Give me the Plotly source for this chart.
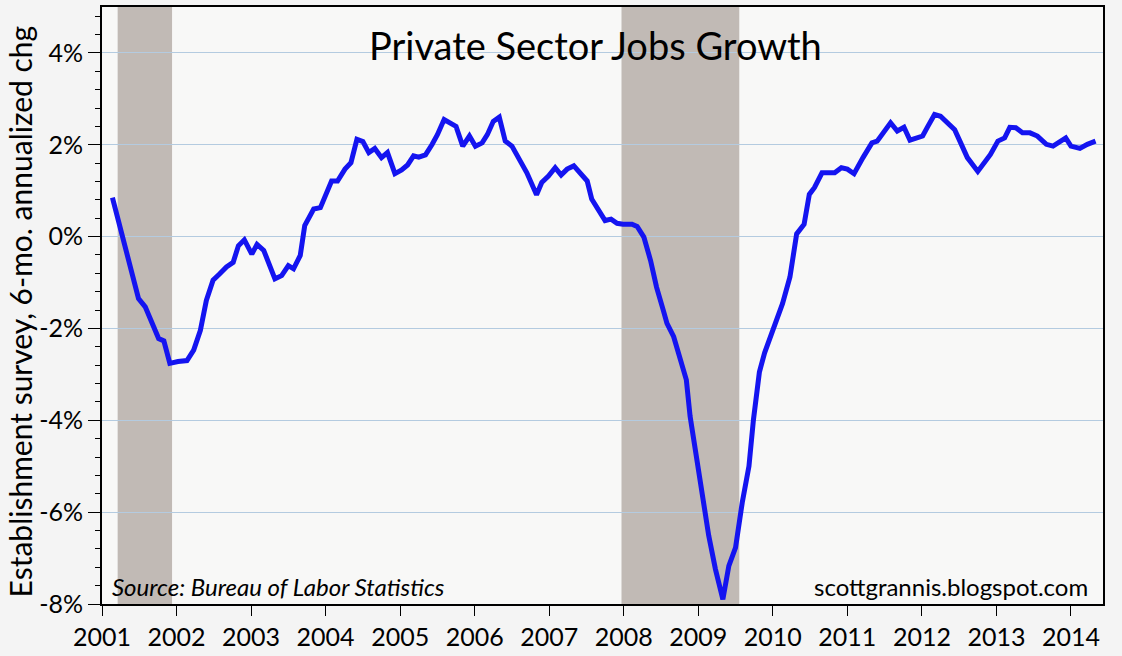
import plotly.graph_objects as go

# posicion en anos decimales y crecimiento anualizado a 6 meses (%)
t = [2001.14, 2001.49, 2001.58, 2001.76, 2001.83, 2001.91, 2002.02, 2002.14, 2002.23, 2002.32,
     2002.40, 2002.49, 2002.58, 2002.67, 2002.76, 2002.83, 2002.91, 2003.01, 2003.08, 2003.17,
     2003.32, 2003.41, 2003.50, 2003.57, 2003.66, 2003.72, 2003.84, 2003.93, 2004.08, 2004.16,
     2004.26, 2004.34, 2004.42, 2004.50, 2004.58, 2004.66, 2004.75, 2004.83, 2004.93, 2005.02,
     2005.10, 2005.18, 2005.25, 2005.34, 2005.43, 2005.50, 2005.59, 2005.67, 2005.75, 2005.84,
     2005.93, 2006.01, 2006.10, 2006.17, 2006.25, 2006.33, 2006.41, 2006.50, 2006.59, 2006.70,
     2006.83, 2006.90, 2006.99, 2007.08, 2007.16, 2007.24, 2007.33, 2007.42, 2007.51, 2007.57,
     2007.66, 2007.75, 2007.83, 2007.91, 2007.99, 2008.11, 2008.18, 2008.27, 2008.36, 2008.44,
     2008.53, 2008.58, 2008.67, 2008.75, 2008.84, 2008.89, 2008.98, 2009.06, 2009.14, 2009.23,
     2009.33, 2009.41, 2009.50, 2009.59, 2009.68, 2009.74, 2009.82, 2009.89, 2010.01, 2010.13,
     2010.23, 2010.32, 2010.42, 2010.49, 2010.56, 2010.66, 2010.83, 2010.92, 2011.00, 2011.09,
     2011.21, 2011.33, 2011.40, 2011.50, 2011.58, 2011.67, 2011.76, 2011.84, 2012.01, 2012.08,
     2012.17, 2012.25, 2012.35, 2012.44, 2012.51, 2012.61, 2012.75, 2012.85, 2012.92, 2013.02,
     2013.11, 2013.18, 2013.26, 2013.35, 2013.45, 2013.55, 2013.67, 2013.76, 2013.86, 2013.93,
     2014.00, 2014.12, 2014.22, 2014.33]

growth = [0.85, -1.35, -1.53, -2.22, -2.27, -2.76, -2.72, -2.70, -2.47, -2.04,
          -1.39, -0.95, -0.81, -0.66, -0.56, -0.20, -0.07, -0.38, -0.17, -0.30,
          -0.92, -0.85, -0.63, -0.70, -0.41, 0.24, 0.60, 0.63, 1.21, 1.21,
          1.47, 1.61, 2.12, 2.07, 1.83, 1.92, 1.72, 1.83, 1.37, 1.45,
          1.56, 1.76, 1.73, 1.78, 2.01, 2.22, 2.55, 2.48, 2.40, 1.97,
          2.19, 1.97, 2.04, 2.22, 2.51, 2.60, 2.08, 1.97, 1.72, 1.39,
          0.91, 1.18, 1.32, 1.50, 1.34, 1.47, 1.54, 1.39, 1.21, 0.82,
          0.56, 0.35, 0.38, 0.29, 0.27, 0.27, 0.22, -0.01, -0.52, -1.10,
          -1.60, -1.89, -2.18, -2.61, -3.12, -3.91, -4.85, -5.72, -6.51, -7.24,
          -7.90, -7.17, -6.77, -5.79, -5.00, -3.99, -2.95, -2.53, -2.00, -1.46,
          -0.88, 0.06, 0.27, 0.92, 1.07, 1.39, 1.39, 1.50, 1.47, 1.37,
          1.72, 2.04, 2.08, 2.30, 2.48, 2.30, 2.38, 2.10, 2.19, 2.40,
          2.66, 2.62, 2.48, 2.33, 2.08, 1.72, 1.42, 1.65, 1.79, 2.08,
          2.15, 2.38, 2.37, 2.26, 2.26, 2.19, 2.01, 1.97, 2.08, 2.15,
          1.97, 1.92, 2.01, 2.08]

# recesiones (NBER)
rec_start = [2001.21, 2007.97]
rec_end = [2001.94, 2009.55]

years = list(range(2001, 2015))
y_ticks = [-8, -6, -4, -2, 0, 2, 4]
y_labels = ["-8%", "-6%", "-4%", "-2%", "0%", "2%", "4%"]

fig = go.Figure()

for a, b in zip(rec_start, rec_end):
    fig.add_vrect(x0=a, x1=b, fillcolor="#c1bab5", opacity=1, line_width=0, layer="below")

fig.add_trace(go.Scatter(
    x=t,
    y=growth,
    mode="lines",
    line=dict(color="#1414f0", width=5),
    showlegend=False
))

font_name = "Lato, 'DejaVu Sans', sans-serif"

fig.add_annotation(text="Private Sector Jobs Growth", xref="paper", yref="paper",
                   x=0.4935, y=0.937, xanchor="center", yanchor="middle", showarrow=False,
                   font=dict(family=font_name, size=38, color="black"))
fig.add_annotation(text="<i>Source: Bureau of Labor Statistics</i>", xref="paper", yref="paper",
                   x=0.008, y=0.03, xanchor="left", yanchor="middle", showarrow=False,
                   font=dict(family=font_name, size=24, color="black"))
fig.add_annotation(text="scottgrannis.blogspot.com", xref="paper", yref="paper",
                   x=0.987, y=0.03, xanchor="right", yanchor="middle", showarrow=False,
                   font=dict(family=font_name, size=24, color="black"))
fig.add_annotation(text="Establishment survey, 6-mo. annualized chg", xref="paper", yref="paper",
                   x=-0.081, y=0.49, xanchor="center", yanchor="middle", textangle=-90,
                   showarrow=False,
                   font=dict(family=font_name, size=30, color="black"))

fig.update_layout(
    width=1122,
    height=656,
    margin=dict(l=102, r=19, t=5, b=51),
    paper_bgcolor="#f4f4f4",
    plot_bgcolor="#f8f8f7",
    font=dict(family=font_name, size=25, color="black"),
)

fig.update_xaxes(
    range=[2001, 2014.43],
    tickvals=years,
    ticks="outside",
    ticklen=10,
    tickcolor="black",
    showgrid=False,
    zeroline=False,
    showline=True,
    linecolor="black",
    linewidth=2,
    mirror=True,
)

fig.update_yaxes(
    range=[-8, 5],
    tickvals=y_ticks,
    ticktext=y_labels,
    ticks="outside",
    ticklen=12,
    tickcolor="black",
    minor=dict(dtick=0.4, tick0=0, ticks="outside", ticklen=5, tickcolor="black", showgrid=False),
    showgrid=True,
    gridcolor="#b4cbe0",
    gridwidth=1,
    zeroline=False,
    showline=True,
    linecolor="black",
    linewidth=2,
    mirror=True,
)

# quitar el margen del body para que el grafico ocupe la ventana entera
fig.write_html("out.html", config={"displayModeBar": False},
               post_script="document.body.style.margin='0';")
